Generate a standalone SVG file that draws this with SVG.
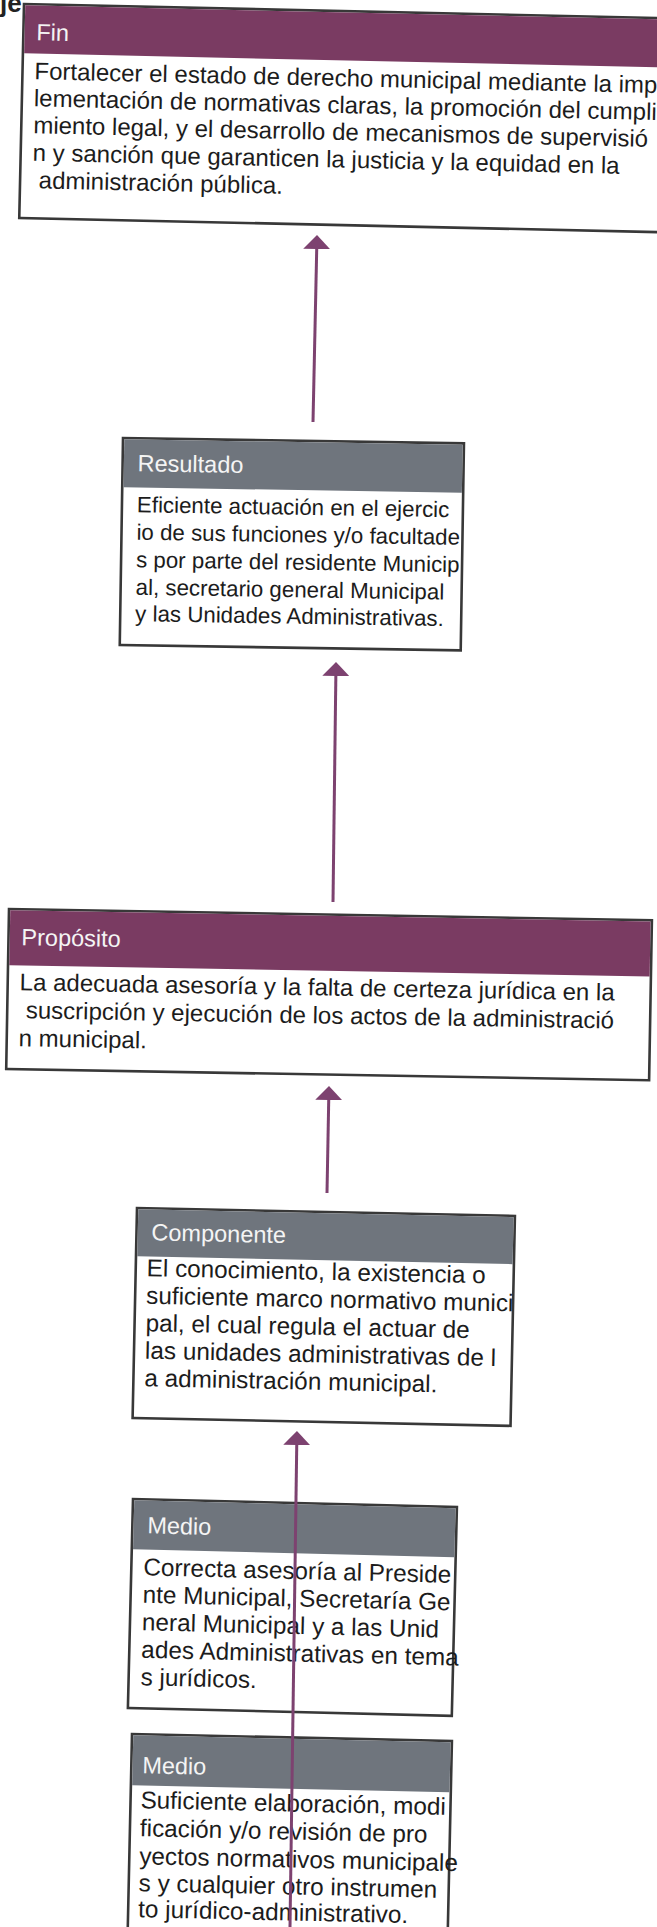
<svg xmlns="http://www.w3.org/2000/svg" width="657" height="1927" viewBox="0 0 657 1927">
<style>
.box{fill:#ffffff;stroke:#383838;stroke-width:2.6}
.hp{fill:#7a3b62}
.hg{fill:#6f757d}
.ht{font-family:"Liberation Sans",Arial,sans-serif;font-size:23.5px;fill:#f4f4f4}
.bt{font-family:"Liberation Sans",Arial,sans-serif;font-size:24.3px;fill:#1c1c1c}
.b24{font-size:24px}
.b22{font-size:22.3px}
.conn{stroke:#7d4270;stroke-width:3;fill:none}
.ttl{font-family:"Liberation Sans",Arial,sans-serif;font-size:26px;font-weight:bold;fill:#222}
</style>
<defs>
<marker id="ah" markerUnits="userSpaceOnUse" markerWidth="14" markerHeight="27" refX="4" refY="13.5" orient="auto">
<path d="M0,0 L14,13.5 L0,27 Z" fill="#7d4270"/>
</marker>
</defs>
<rect x="0" y="0" width="657" height="1927" fill="#ffffff"/>
<text class="ttl" x="0" y="12">je</text>

<g id="fin" transform="translate(24,4) rotate(1.27)">
<rect class="box" x="0" y="0" width="660" height="214"/>
<rect class="hp" x="1.3" y="1.3" width="660" height="48"/>
<text class="ht" x="13" y="36">Fin</text>
<text class="bt b24" x="12" y="75">Fortalecer el estado de derecho municipal mediante la imp</text>
<text class="bt b24" x="12" y="102">lementación de normativas claras, la promoción del cumpli</text>
<text class="bt b24" x="12" y="129">miento legal, y el desarrollo de mecanismos de supervisió</text>
<text class="bt b24" x="12" y="156.5">n y sanción que garanticen la justicia y la equidad en la</text>
<text class="bt b24" x="12" y="184" xml:space="preserve"> administración pública.</text>
</g>

<g id="resultado" transform="translate(123,438) rotate(0.9)">
<rect class="box" x="0" y="0" width="341" height="207"/>
<rect class="hg" x="1.3" y="1.3" width="338.4" height="48"/>
<text class="ht" x="15" y="33">Resultado</text>
<text class="bt b22" x="15" y="74">Eficiente actuación en el ejercic</text>
<text class="bt b22" x="15" y="101.5">io de sus funciones y/o facultade</text>
<text class="bt b22" x="15" y="129">s por parte del residente Municip</text>
<text class="bt b22" x="15" y="156.5">al, secretario general Municipal</text>
<text class="bt b22" x="15" y="183">y las Unidades Administrativas.</text>
</g>

<g id="proposito" transform="translate(9,909) rotate(1.0)">
<rect class="box" x="0" y="0" width="643" height="160"/>
<rect class="hp" x="1.3" y="1.3" width="640.4" height="55"/>
<text class="ht" x="13" y="36">Propósito</text>
<text class="bt b24" x="12" y="81">La adecuada asesoría y la falta de certeza jurídica en la</text>
<text class="bt b24" x="12" y="109" xml:space="preserve"> suscripción y ejecución de los actos de la administració</text>
<text class="bt b24" x="12" y="137">n municipal.</text>
</g>

<g id="componente" transform="translate(137,1208) rotate(1.2)">
<rect class="box" x="0" y="0" width="378" height="210"/>
<rect class="hg" x="1.3" y="1.3" width="375.4" height="47"/>
<text class="ht" x="15" y="32">Componente</text>
<text class="bt" x="11" y="68">El conocimiento, la existencia o</text>
<text class="bt" x="11" y="95.5">suficiente marco normativo munici</text>
<text class="bt" x="11" y="123">pal, el cual regula el actuar de</text>
<text class="bt" x="11" y="150.5">las unidades administrativas de l</text>
<text class="bt" x="11" y="178">a administración municipal.</text>
</g>

<g id="medio1" transform="translate(133,1499) rotate(1.4)">
<rect class="box" x="0" y="0" width="324" height="209"/>
<rect class="hg" x="1.3" y="1.3" width="321.4" height="49"/>
<text class="ht" x="15" y="34">Medio</text>
<text class="bt" x="12" y="76">Correcta asesoría al Preside</text>
<text class="bt" x="12" y="103.5">nte Municipal, Secretaría Ge</text>
<text class="bt" x="12" y="131">neral Municipal y a las Unid</text>
<text class="bt" x="12" y="158.5">ades Administrativas en tema</text>
<text class="bt" x="12" y="186">s jurídicos.</text>
</g>

<g id="medio2" transform="translate(132,1734) rotate(1.25)">
<rect class="box" x="0" y="0" width="320" height="240"/>
<rect class="hg" x="1.3" y="1.3" width="317.4" height="50"/>
<text class="ht" x="11" y="39">Medio</text>
<text class="bt" x="10" y="74">Suficiente elaboración, modi</text>
<text class="bt" x="10" y="102">ficación y/o revisión de pro</text>
<text class="bt" x="10" y="130">yectos normativos municipale</text>
<text class="bt" x="10" y="157">s y cualquier otro instrumen</text>
<text class="bt" x="10" y="183">to jurídico-administrativo.</text>
</g>

<g id="connectors">
<line class="conn" x1="313" y1="422" x2="316.8" y2="245" marker-end="url(#ah)"/>
<line class="conn" x1="333" y1="902" x2="335.9" y2="672" marker-end="url(#ah)"/>
<line class="conn" x1="327" y1="1193" x2="328.8" y2="1096" marker-end="url(#ah)"/>
<line class="conn" x1="290" y1="1927" x2="296.8" y2="1441" marker-end="url(#ah)"/>
</g>
</svg>
